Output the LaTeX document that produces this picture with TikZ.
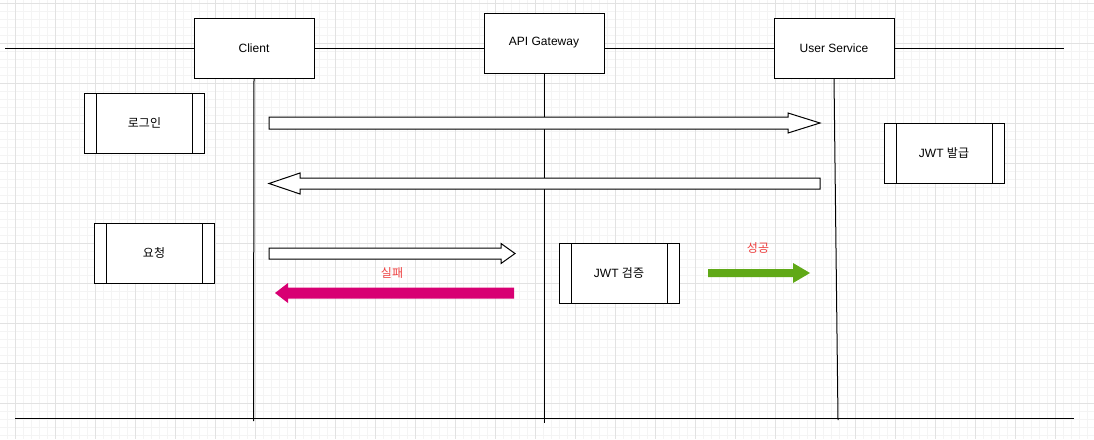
\documentclass[tikz,border=0pt]{standalone}
\usepackage{fontspec}
\setmainfont{Liberation Sans}
\newfontfamily\kr{Noto Sans CJK KR}
\usetikzlibrary{calc,positioning}
\definecolor{ink}{RGB}{0,0,0}
\definecolor{gmajor}{RGB}{226,226,226}
\definecolor{gminor}{RGB}{244,244,244}
\definecolor{fail}{HTML}{D80073}
\definecolor{pass}{HTML}{60A917}
\definecolor{note}{RGB}{238,64,64}
\tikzset{
  head/.style={draw=ink,fill=white,line width=1pt,minimum width=120pt,
    minimum height=60pt,inner sep=0pt,font=\fontsize{12}{14}\selectfont},
  proc/.style={head,path picture={
      \draw[line width=1pt] ([xshift=12pt]path picture bounding box.north west)
        -- ([xshift=12pt]path picture bounding box.south west);
      \draw[line width=1pt] ([xshift=-12pt]path picture bounding box.north east)
        -- ([xshift=-12pt]path picture bounding box.south east);}},
  life/.style={draw=ink,line width=1pt},
  blk/.style n args={3}{to path={let \p1=(\tikztostart),\p2=(\tikztotarget),
      \n1={#3*sign(\x2-\x1)} in
      (\x1,\y1+#1pt) -- (\x2-\n1*1pt,\y1+#1pt) -- (\x2-\n1*1pt,\y1+#2pt)
      -- (\x2,\y1) -- (\x2-\n1*1pt,\y1-#2pt) -- (\x2-\n1*1pt,\y1-#1pt)
      -- (\x1,\y1-#1pt) -- cycle}},
  hollow/.style={draw=ink,fill=white,line width=1pt,line join=miter},
  lbl/.style={font=\kr\fontsize{12}{14}\selectfont,text=note},
  gridminor/.style={draw=gminor,line width=0.6pt},
  gridmajor/.style={draw=gmajor,line width=0.8pt},
}
\begin{document}
\begin{tikzpicture}[x=1pt,y=-1pt]
  \useasboundingbox[fill=white] (0,0) rectangle (1094,439);
  \foreach \gx in {7,15,...,1094} \draw[gridminor] (\gx,0) -- (\gx,439);
  \foreach \gy in {3,11,...,439} \draw[gridminor] (0,\gy) -- (1094,\gy);
  \foreach \gx in {15,55,...,1094} \draw[gridmajor] (\gx,0) -- (\gx,439);
  \foreach \gy in {3,43,...,439} \draw[gridmajor] (0,\gy) -- (1094,\gy);

  \coordinate (topl) at (5,48);
  \coordinate (topr) at (1064,48);
  \coordinate (botl) at (15,418);
  \coordinate (botr) at (1074,418);
  \draw[life] (topl) -- (topr);
  \draw[life] (botl) -- (botr);

  \node[head] (client) at (254,48) {Client};
  \node[head] (gateway) at (544,43) {API Gateway};
  \node[head] (user) at (834,48) {User Service};

  \coordinate (clientend) at (253.5,421);
  \coordinate (gatewayend) at (544,423);
  \coordinate (userend) at (838,420);
  \draw[life] (client.south) -- (clientend);
  \draw[life] (gateway.south) -- (gatewayend);
  \draw[life] (user.south) -- (userend);

  \node[proc] (login) at (144.5,123) {\kr 로그인};
  \node[proc] (req) at (154,253) {\kr 요청};
  \node[proc] (verify) at (619,273) {JWT {\kr 검증}};
  \node[proc] (issue) at (944,153) {JWT {\kr 발급}};

  \coordinate (loginfrom) at (269,123);
  \coordinate (loginto) at (820,123);
  \coordinate (tokenfrom) at (820,183.5);
  \coordinate (tokento) at (269,183.5);
  \coordinate (reqfrom) at (269,253.5);
  \coordinate (reqto) at (515,253.5);
  \coordinate (failfrom) at (514,293);
  \coordinate (failto) at (275,293);
  \coordinate (passfrom) at (708,273);
  \coordinate (passto) at (810,273);

  \path[hollow,blk={6}{10}{32}] (loginfrom) to (loginto);
  \path[hollow,blk={5.5}{10.5}{31}] (tokenfrom) to (tokento);
  \path[hollow,blk={5.5}{10}{14}] (reqfrom) to (reqto);
  \path[fill=fail,blk={5.5}{10}{13}] (failfrom) to (failto);
  \path[fill=pass,blk={4}{10}{17}] (passfrom) to (passto);

  \node[lbl] (failtxt) at (392,273) {실패};
  \node[lbl] (passtxt) at (758,248) {성공};
\end{tikzpicture}
\end{document}
